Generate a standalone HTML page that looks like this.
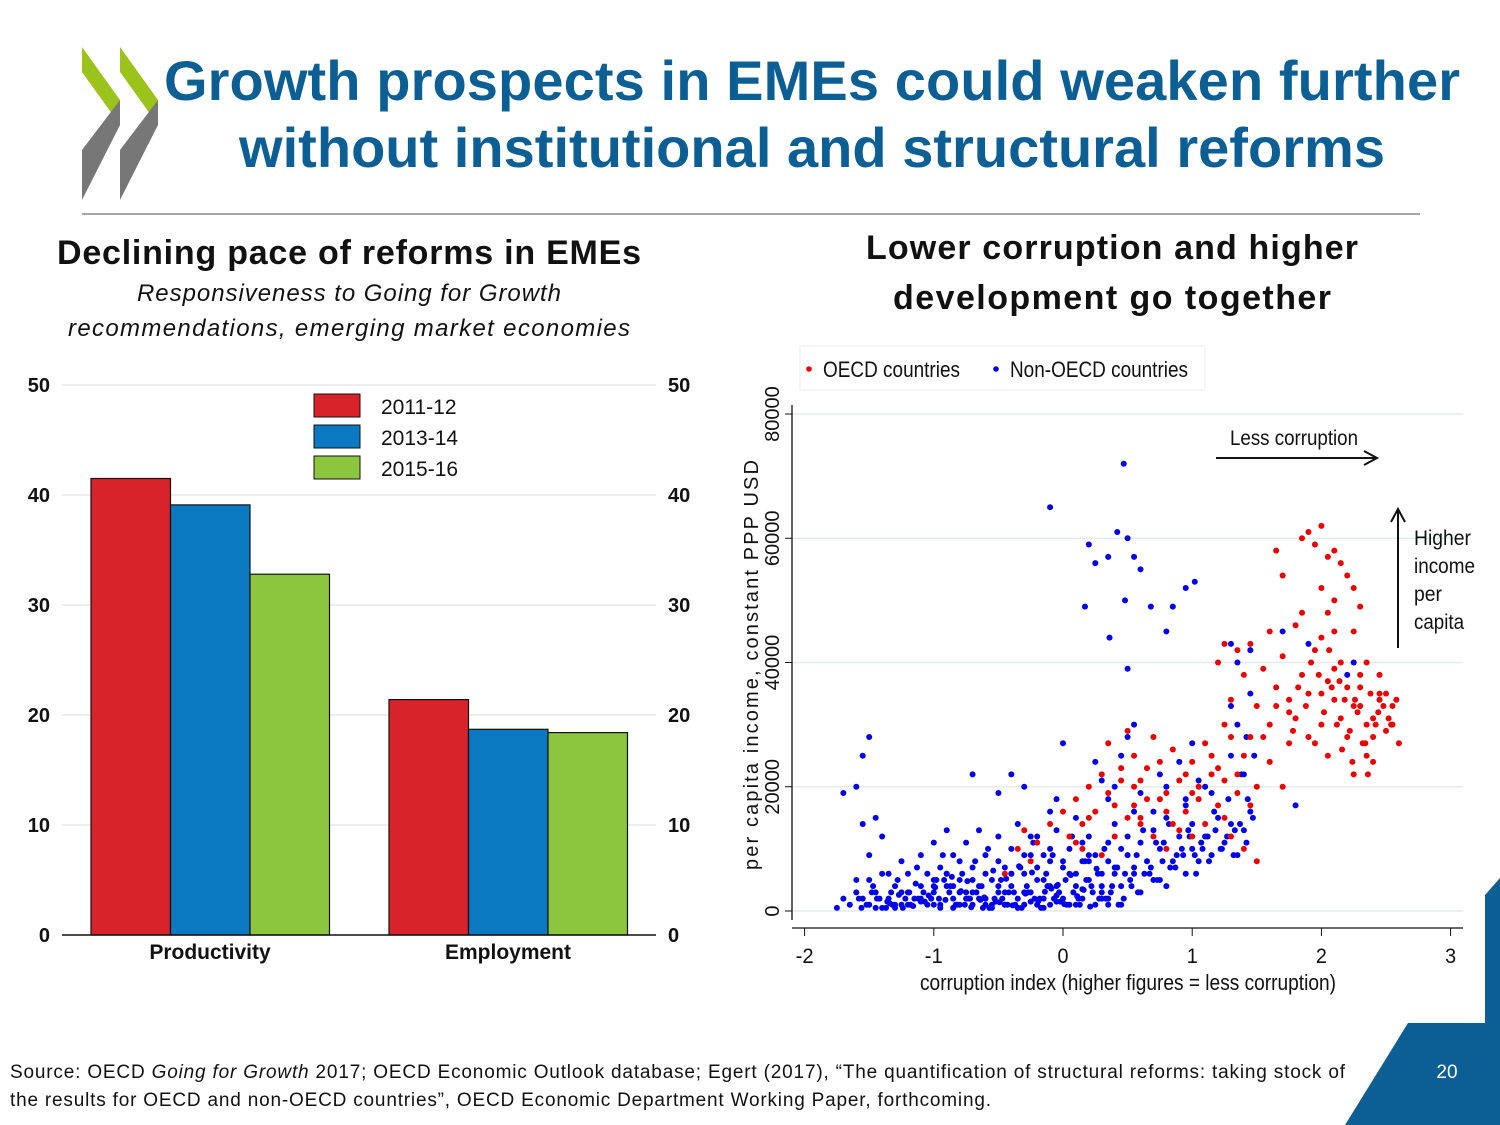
<!DOCTYPE html>
<html><head><meta charset="utf-8"><style>
body{margin:0;width:1500px;height:1125px;background:#fff;overflow:hidden;position:relative;font-family:"Liberation Sans",sans-serif}
.abs{position:absolute}
</style></head><body>
<svg class="abs" style="left:0;top:0" width="1500" height="1125">
<g>
<polygon points="82,47 120,100 120,125 82,72" fill="#9bc31c"/>
<polygon points="82,150 120,100 120,125 82,200" fill="#777"/>
<polygon points="120,47 158,100 158,125 120,72" fill="#9bc31c"/>
<polygon points="120,150 158,100 158,125 120,200" fill="#777"/>
</g>
<text x="812" y="100" text-anchor="middle" font-size="56" font-weight="bold" fill="#0b5f95" textLength="1296">Growth prospects in EMEs could weaken further</text>
<text x="812" y="167" text-anchor="middle" font-size="56" font-weight="bold" fill="#0b5f95" textLength="1146">without institutional and structural reforms</text>
<line x1="82" y1="214" x2="1420" y2="214" stroke="#888" stroke-width="1.5"/>
<polygon points="1345,1125 1408,1023 1485,1023 1485,1125" fill="#0b5f95"/>
<polygon points="1485,895 1500,878 1500,1125 1485,1125" fill="#0b5f95"/>
<text x="1447" y="1078" text-anchor="middle" font-size="19" fill="#fff">20</text>
<text x="10" y="1078" font-size="19" fill="#111" textLength="1335">Source: OECD <tspan font-style="italic">Going for Growth</tspan> 2017; OECD Economic Outlook database; Egert (2017), “The quantification of structural reforms: taking stock of</text>
<text x="10" y="1106" font-size="19" fill="#111" textLength="981">the results for OECD and non-OECD countries”, OECD Economic Department Working Paper, forthcoming.</text>

<text x="349" y="264" text-anchor="middle" font-size="34" font-weight="bold" fill="#111" textLength="584">Declining pace of reforms in EMEs</text>
<text x="349" y="301" text-anchor="middle" font-size="24" font-style="italic" fill="#111" textLength="424">Responsiveness to Going for Growth</text>
<text x="349" y="336" text-anchor="middle" font-size="24" font-style="italic" fill="#111" textLength="562">recommendations, emerging market economies</text>
<text x="1112" y="259" text-anchor="middle" font-size="34" font-weight="bold" fill="#111" textLength="492">Lower corruption and higher</text>
<text x="1112" y="309" text-anchor="middle" font-size="34" font-weight="bold" fill="#111" textLength="438">development go together</text>

<g id="bar"></g>
<g id="sc"></g>
</svg>
<script>
const NS="http://www.w3.org/2000/svg";
function mk(p,t,a){const e=document.createElementNS(NS,t);for(const k in a)e.setAttribute(k,a[k]);p.appendChild(e);return e;}
// ---- bar chart data
const barCategories=["Productivity","Employment"];
const barSeries=["2011-12","2013-14","2015-16"];
const barColors=["#d9232a","#0a79c2","#8cc63f"];
const val2011=[41.5,21.4];
const val2013=[39.1,18.7];
const val2015=[32.8,18.4];
const barTicks=[0,10,20,30,40,50];
const bg=document.getElementById('bar');
const by=v=>935-v*11;
barTicks.forEach(t=>{
 if(t>0){const l=mk(bg,'line',{x1:62,x2:656,y1:by(t),y2:by(t),stroke:'#ddd','stroke-width':1});
 
 }
 const a=mk(bg,'text',{x:50,y:by(t)+7,'text-anchor':'end','font-size':20,'font-weight':'bold',fill:'#111'});a.textContent=t;
 
 
 const b=mk(bg,'text',{x:668,y:by(t)+7,'font-size':20,'font-weight':'bold',fill:'#111'});b.textContent=t;
 
 
});
const allVals=[val2011,val2013,val2015];
barCategories.forEach((c,i)=>{
 const x0=91+i*298;
 allVals.forEach((vs,j)=>{
  const r=mk(bg,'rect',{x:x0+j*79.5,y:by(vs[i]),width:79.5,height:vs[i]*11,fill:barColors[j],stroke:'#111','stroke-width':1.2});
  
  
 });
 const t=mk(bg,'text',{x:x0+119,y:959,'text-anchor':'middle','font-size':21,'font-weight':'bold',fill:'#111'});t.textContent=c;
 
 
});
const ax=mk(bg,'line',{x1:62,x2:656,y1:935,y2:935,stroke:'#111','stroke-width':1.5});


barSeries.forEach((s,j)=>{
 const r=mk(bg,'rect',{x:314,y:394+j*31,width:46,height:23,fill:barColors[j],stroke:'#111','stroke-width':1});
 
 
 const t=mk(bg,'text',{x:381,y:414+j*31,'font-size':21,fill:'#111'});t.textContent=s;
 
 
});
// ---- scatter data (x = corruption index, y = thousand USD)
const blueX=[-1.65,-1.6,-1.55,-1.5,-1.5,-1.45,-1.4,-1.4,-1.35,-1.3,-1.3,-1.25,-1.25,-1.2,-1.2,-1.15,-1.1,-1.1,-1.05,-1.05,-1,-1,-0.95,-0.95,-0.9,-0.9,-0.85,-0.85,-0.8,-0.8,-0.75,-0.75,-0.7,-0.7,-0.65,-0.65,-0.6,-0.6,-0.55,-0.55,-0.5,-0.5,-0.45,-0.45,-0.4,-0.4,-0.35,-0.35,-0.3,-0.3,-0.25,-0.25,-0.2,-0.2,-0.15,-0.15,-0.1,-0.1,-0.05,-0.05,0,0,0.05,0.05,0.1,0.1,0.15,0.15,0.2,0.2,0.25,0.25,0.3,0.3,0.35,0.35,0.4,0.4,0.45,0.45,0.5,0.5,0.55,0.55,0.6,0.6,0.65,0.7,0.7,0.75,0.8,0.8,0.85,0.9,0.95,0.95,1,1,1.05,1.1,1.1,1.15,1.2,1.25,1.3,1.35,1.4,1.45,1.3,1.35,1.4,1.42,1.3,1.45,0.45,0.5,0.4,0.55,0.35,0.75,0.8,0.9,0.95,1.0,1.05,0.25,0.3,-0.05,-0.1,0.0,-0.3,-0.5,0.6,0.7,1.15,-1.45,-1.4,-1.5,-1.55,-1.35,-1.6,-1.7,-0.9,-0.8,-0.6,-0.4,-0.2,-0.1,0.05,0.2,-1.0,-1.2,-0.7,-0.5,-0.3,-0.25,-0.15,0.15,0.35,0.45,-0.1,0.47,0.2,0.25,0.35,0.42,0.5,0.55,0.6,0.17,0.36,0.48,0.68,0.85,0.95,1.02,0.8,0.5,-1.5,-1.55,-1.7,-1.6,-0.7,-0.4,1.3,1.35,1.45,1.7,1.9,2.2,2.25,1.8,-1.75,-1.3,-1.1,-0.85,-0.6,-0.35,-0.05,0.1,0.3,-1.45,-1.25,-0.95,-0.75,-0.55,-0.45,-0.15,
-1.58,-1.52,-1.47,-1.42,-1.37,-1.33,-1.28,-1.22,-1.18,-1.13,-1.08,-1.02,-0.98,-0.93,-0.88,-0.83,-0.78,-0.73,-0.68,-0.63,-0.58,-0.53,-0.48,-0.43,-0.38,-0.33,-0.28,-0.23,-0.18,-0.13,-0.08,-0.03,0.02,0.07,0.12,0.17,0.22,0.27,0.32,0.37,0.42,0.47,0.52,0.57,0.62,0.67,0.72,0.77,0.82,0.87,0.92,0.97,1.02,1.07,1.12,1.17,1.22,1.27,1.32,1.37,1.42,1.47,
-1.56,-1.44,-1.32,-1.19,-1.07,-0.96,-0.87,-0.76,-0.67,-0.57,-0.47,-0.37,-0.27,-0.17,-0.07,0.03,0.13,0.23,0.33,0.43,0.53,0.63,0.73,0.83,0.93,1.03,1.13,1.23,1.33,1.43,
-1.48,-1.36,-1.24,-1.12,-1.0,-0.92,-0.82,-0.72,-0.62,-0.52,-0.42,-0.32,-0.22,-0.12,-0.02,0.08,0.18,0.28,0.38,0.48,0.58,0.68,0.78,0.88,0.98,1.08,1.18,1.28,1.38,1.48,
-1.0,-0.9,-0.8,-0.7,-0.6,-0.5,-0.4,-0.3,-0.2,-0.1,0.0,0.1,0.2,0.3,0.4,-1.1,-0.85,-0.65,-0.45,-0.25,-0.05,0.15,0.35,0.55,0.75,
-1.34,-1.16,-1.04,-0.91,-0.79,-0.71,-0.61,-0.49,-0.39,-0.29,-0.19,-0.09,0.01,0.11,0.21,-1.27,-1.14,-0.99,-0.86,-0.74,-0.64,-0.54,-0.44,-0.34,-0.24,-0.14,-0.04,0.06,0.16,0.26];
const blueY=[1,3,2,5,1,3,0.5,6,2,4,1,8,3,1,6,2,4,9,1,6,3,11,1,7,4,13,2,9,1,5,3,11,1,7,4,13,2,9,1,5,3,12,1,7,4,10,2,14,6,1,3,9,1,12,5,2,8,1,4,13,2,7,1,10,4,15,2,8,5,12,1,9,6,3,11,2,7,14,4,1,9,12,6,16,3,11,8,5,13,10,4,15,8,12,6,17,10,14,8,12,20,9,15,11,14,9,13,16,25,30,22,28,33,35,25,28,20,30,18,22,20,24,18,27,21,24,21,18,16,27,20,19,19,16,19,15,12,9,14,6,5,2,6,8,6,6,7,10,6,8,5,3,3,8,9,12,9,11,8,10,65,72,59,56,57,61,60,57,55,49,44,50,49,49,52,53,45,39,28,25,19,20,22,22,43,40,42,45,43,38,40,17,0.5,0.5,1.5,0.5,1,0.5,1.5,1,2,0.5,1,0.5,2,0.5,1,0.5,
2,1,4,2,0.5,3,5,2,1,7,3,2,5,9,3,1,6,2,8,4,10,2,5,1,3,7,4,11,2,6,9,3,5,12,2,8,4,6,10,3,7,2,5,9,13,6,11,8,14,7,10,13,9,11,12,16,10,12,9,14,11,15,
0.5,2,1,3,1.5,2,4,1,3,0.5,2,1,3,0.5,2,1,1,3,2,1,4,6,5,7,9,6,8,10,13,18,
3,1.5,0.5,2,1,5,1,2,0.5,1.5,3,0.5,2,4,1.5,3,5,2,4,6,3,7,11,9,12,10,13,18,22,25,
4,6,3,5,2,4,6,3,5,4,8,6,9,4,6,2,4,2,3,1.5,2.5,3.5,1,7,5,
1.2,0.8,2.5,1.8,3.2,0.6,2.2,1.4,0.9,2.8,1.6,3.6,1.1,2.4,0.7,2.6,4.4,3.8,5.5,4.8,1.8,6.5,5.2,7.2,6.2,3.1,4.2,5.8,3.4,6.8];
const redX=[-0.45,-0.35,-0.3,-0.2,-0.1,0,0.05,0.1,0.15,0.2,0.25,0.3,0.35,0.4,0.45,0.5,0.55,0.6,0.65,0.7,0.75,0.8,0.85,0.9,0.95,1,1.05,1.1,1.15,1.2,1.25,1.3,1.35,1.4,1.45,1.5,1.55,1.6,1.65,1.7,1.75,1.8,1.85,1.9,1.95,2,2.05,2.1,2.15,2.2,2.25,2.3,2.35,2.4,2.45,2.5,2.55,2.6,1.85,1.9,1.95,2,2.05,2.1,2.15,2.2,2.25,2.3,1.65,1.7,2.0,2.1,2.3,2.35,2.4,1.3,1.4,1.5,1.25,1.45,1.6,1.7,0.6,0.7,0.3,0.5,0.9,0.8,1.0,1.2,1.1,0.55,0.15,-0.25,1.95,2.05,2.15,2.25,2.45,2.55,1.75,1.55,1.35,1.5,2.0,2.1,2.2,2.3,2.4,2.5,1.8,1.9,1.65,1.45,1.85,2.05,1.6,1.2,1.25,1.75,2.25,2.35,2.45,2.0,2.1,
1.98,2.02,2.08,2.12,2.18,2.22,2.28,2.32,2.38,2.42,2.48,2.52,2.58,1.92,1.88,1.82,1.78,2.06,2.14,2.26,2.34,2.44,2.54,2.16,2.24,2.36,0.35,0.45,0.55,0.65,0.75,0.85,0.95,1.05,1.15,1.25,0.4,0.6,0.8,1.0,0.2,0.1,1.35,1.4,1.3];
const redY=[6,10,13,11,14,16,12,18,14,20,16,22,27,17,23,29,25,21,18,28,24,19,26,21,16,24,20,27,22,17,30,34,42,38,43,33,39,30,36,41,32,46,38,35,42,30,37,34,40,28,33,36,25,31,34,29,33,27,60,61,59,62,57,58,56,54,52,49,58,54,44,45,38,30,24,12,10,8,15,17,24,20,14,12,9,15,13,10,19,23,14,20,10,8,27,25,31,22,38,30,27,28,22,20,35,39,36,33,28,35,31,28,33,28,48,48,45,40,43,34,45,40,35,52,50,
38,32,36,30,34,29,32,27,35,30,33,31,34,40,33,36,29,42,37,34,27,32,30,26,24,22,19,21,17,23,18,14,22,18,25,21,12,15,16,12,15,11,19,25,28];
const scTicksX=[-2,-1,0,1,2,3];
const scTicksY=[0,20000,40000,60000,80000];
const sg=document.getElementById('sc');
const sx=v=>1063+v*129.2;
const sy=v=>911-v*6.2125;
scTicksY.forEach(t=>{
 const l=mk(sg,'line',{x1:792,x2:1463,y1:sy(t/1000),y2:sy(t/1000),stroke:'#e6ecec','stroke-width':1.5});
 
 
 const k=mk(sg,'line',{x1:785,x2:792,y1:sy(t/1000),y2:sy(t/1000),stroke:'#111'});
 
 
 const y=sy(t/1000);
 const tx=mk(sg,'text',{x:779,y:y,'text-anchor':'middle','font-size':20,fill:'#111',transform:'rotate(-90 779 '+y+')'});tx.textContent=t;
 
 
});
scTicksX.forEach(t=>{
 const k=mk(sg,'line',{x1:sx(t),x2:sx(t),y1:928,y2:936,stroke:'#111'});
 
 
 const tx=mk(sg,'text',{x:sx(t),y:963,'text-anchor':'middle','font-size':21,fill:'#111',textLength:(t<0?18:11),lengthAdjust:'spacingAndGlyphs'});tx.textContent=t;
 
 
});
const xa=mk(sg,'line',{x1:792,x2:1463,y1:928,y2:928,stroke:'#111','stroke-width':1.3});


const ya=mk(sg,'line',{x1:792,x2:792,y1:405,y2:920,stroke:'#111','stroke-width':1.3});


const yt=mk(sg,'text',{x:758,y:665,'text-anchor':'middle','font-size':20,fill:'#111',textLength:410,transform:'rotate(-90 758 665)'});yt.textContent='per capita income, constant PPP USD';


const xt=mk(sg,'text',{x:1128,y:990,'text-anchor':'middle','font-size':22,fill:'#111',textLength:416,lengthAdjust:'spacingAndGlyphs'});xt.textContent='corruption index (higher figures = less corruption)';


blueX.forEach((x,i)=>{
 const c=mk(sg,'circle',{cx:sx(x),cy:sy(blueY[i]),r:3,fill:'#0000ee'});
 
 
});
redX.forEach((x,i)=>{
 const c=mk(sg,'circle',{cx:sx(x),cy:sy(redY[i]),r:3,fill:'#ee0000'});
 
 
});
const lg=mk(sg,'rect',{x:800,y:346,width:405,height:44,fill:'#fff',stroke:'#eee'});


[["OECD countries","#ee0000",809,137],["Non-OECD countries","#0000ee",996,178]].forEach(([s,c,x,w])=>{
 const d=mk(sg,'circle',{cx:x,cy:369,r:2.8,fill:c});
 
 
 const t=mk(sg,'text',{x:x+14,y:377,'font-size':22,fill:'#111',textLength:w,lengthAdjust:'spacingAndGlyphs'});t.textContent=s;
 
 
});
const a1=mk(sg,'text',{x:1230,y:445,'font-size':21,fill:'#111',textLength:128,lengthAdjust:'spacingAndGlyphs'});a1.textContent='Less corruption';


const ar=mk(sg,'path',{d:'M1216 458 H1376 M1364 451 L1377 458 L1364 465',stroke:'#111','stroke-width':2,fill:'none'});


const ar2=mk(sg,'path',{d:'M1398 648 V510 M1391 522 L1398 509 L1405 522',stroke:'#111','stroke-width':2,fill:'none'});


[["Higher",57],["income",61],["per",28],["capita",50]].forEach(([w,l],i)=>{
 const t=mk(sg,'text',{x:1414,y:545+i*28,'font-size':21,fill:'#111',textLength:l,lengthAdjust:'spacingAndGlyphs'});t.textContent=w;
 
 
});
</script>
</body></html>
